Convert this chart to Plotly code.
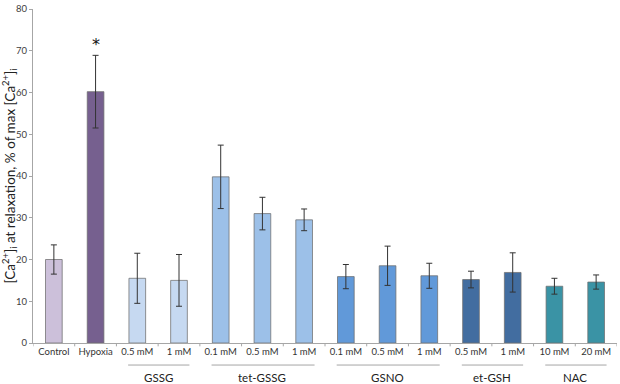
import plotly.graph_objects as go

categories = ["Control", "Hypoxia", "0.5 mM", "1 mM", "0.1 mM", "0.5 mM", "1 mM",
              "0.1 mM", "0.5 mM", "1 mM", "0.5 mM", "1 mM", "10 mM", "20 mM"]
values = [20.0, 60.2, 15.5, 15.0, 39.8, 31.0, 29.5, 15.9, 18.5, 16.1, 15.2, 16.9, 13.6, 14.6]
errors = [3.5, 8.7, 6.0, 6.2, 7.6, 3.9, 2.6, 2.9, 4.7, 3.0, 2.0, 4.7, 1.9, 1.7]
colors = ["#CCC0DA", "#76608F", "#C6D9F1", "#C6D9F1", "#9CC0E8", "#9CC0E8", "#9CC0E8",
          "#6199D9", "#6199D9", "#6199D9", "#426DA0", "#426DA0", "#3A93A5", "#3A93A5"]
groups = [("GSSG", 2, 3), ("tet-GSSG", 4, 6), ("GSNO", 7, 9), ("et-GSH", 10, 11), ("NAC", 12, 13)]
y_ticks = [0, 10, 20, 30, 40, 50, 60, 70, 80]

FONT = "Lato, Open Sans, sans-serif"
x_idx = list(range(len(categories)))

fig = go.Figure()
fig.add_trace(go.Bar(
    x=x_idx, y=values, width=0.4,
    marker=dict(color=colors, line=dict(color="rgba(110,110,110,0.75)", width=1)),
    error_y=dict(type="data", array=errors, visible=True, color="#333333",
                 thickness=1, width=3),
    hoverinfo="skip",
))

# asterisk over Hypoxia
fig.add_annotation(x=1, y=values[1] + errors[1] + 2.6, text="*", showarrow=False,
                   font=dict(size=16, color="#111111", family="DejaVu Sans"), xref="x", yref="y")

# group lines and labels
for name, a, b in groups:
    fig.add_shape(type="line", xref="x", yref="paper", x0=a - 0.22, x1=b + 0.25,
                  y0=-0.066, y1=-0.066, line=dict(color="#A6A6A6", width=1))
    fig.add_annotation(x=(a + b) / 2, y=-0.103, xref="x", yref="paper", text=name,
                       showarrow=False, yanchor="middle",
                       font=dict(size=11.5, color="#222222", family=FONT))

fig.update_layout(
    width=620, height=384,
    margin=dict(l=33, r=3, t=3, b=41),
    paper_bgcolor="white", plot_bgcolor="white",
    showlegend=False, bargap=0.6,
    font=dict(family=FONT, size=9, color="#404040"),
)
fig.update_xaxes(
    tickmode="array", tickvals=x_idx, ticktext=categories,
    range=[-0.5, len(categories) - 0.5],
    showline=True, linecolor="#A6A6A6", linewidth=1,
    ticks="", showgrid=False, tickfont=dict(size=9.5, color="#333333"),
)
# boundary ticks on x axis
for i in range(len(categories) + 1):
    fig.add_shape(type="line", xref="x", yref="paper", x0=i - 0.5, x1=i - 0.5,
                  y0=0, y1=-0.01, line=dict(color="#A6A6A6", width=1))

fig.update_yaxes(
    range=[0, 80], tickmode="array", tickvals=y_ticks,
    showline=True, linecolor="#A6A6A6", linewidth=1,
    ticks="outside", ticklen=3, tickcolor="#A6A6A6",
    showgrid=False, zeroline=False, ticklabeloverflow="allow",
    tickfont=dict(size=9.5, color="#404040"),
    title=dict(text="[Ca<sup>2+</sup>]<sub>i</sub> at relaxation, % of max [Ca<sup>2+</sup>]<sub>i</sub>",
               font=dict(size=13.5, color="#222222", family=FONT), standoff=3),
)

fig.write_html("out.html", config={"displayModeBar": False},
               post_script="document.body.style.margin='0';document.body.style.padding='0';")
